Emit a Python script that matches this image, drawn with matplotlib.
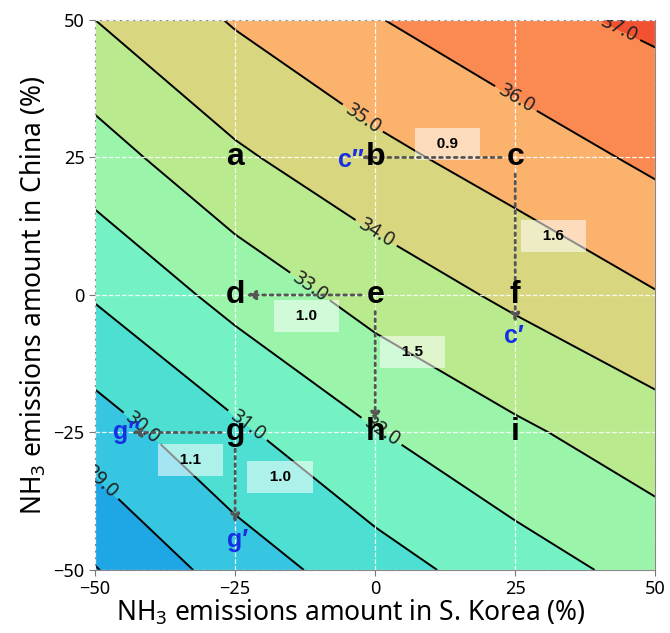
import numpy as np
import matplotlib
matplotlib.use("Agg")
import matplotlib.pyplot as plt

# emission change grid (%), S. Korea on x, China on y
korea_pct = [-50, -25, 0, 25, 50]
china_pct = [-50, -25, 0, 25, 50]

# concentration, rows = china_pct, cols = korea_pct
conc = [
    [27.95, 29.45, 30.57, 31.54, 32.35],
    [29.50, 30.82, 31.95, 32.82, 33.57],
    [31.10, 32.34, 33.40, 34.20, 34.95],
    [32.55, 33.84, 34.73, 35.47, 36.20],
    [34.00, 35.09, 35.95, 36.70, 37.20],
]
levels = [27, 28, 29, 30, 31, 32, 33, 34, 35, 36, 37, 38]
line_levels = [28, 29, 30, 31, 32, 33, 34, 35, 36, 37]
band_colors = ['#1598e0', '#1fa6e4', '#36c6e2', '#4cdfd2', '#74f2c4', '#9af5aa',
               '#b9ea8e', '#d8d67e', '#fab26c', '#fb8a52', '#f25232']

# where the contour labels sit
label_spots = [(44, 49.5), (25, 35.5), (-3, 31), (0, 11), (-12, 1),
               (1, -25), (-23, -24), (-43, -26), (-49, -34)]

# scenario points
pt_names = ['a', 'b', 'c', 'd', 'e', 'f', 'g', 'h', 'i']
pt_x = [-25, 0, 25, -25, 0, 25, -25, 0, 25]
pt_y = [25, 25, 25, 0, 0, 0, -25, -25, -25]

# shifted points (blue)
sh_names = ['c\u2033', 'c\u2032', 'g\u2033', 'g\u2032']
sh_x = [-4.3, 24.8, -44.3, -24.5]
sh_y = [24.6, -7.5, -25, -44.5]

# dotted arrows: start -> end
arr_start = [(22.5, 25), (25, 22), (-2.5, 0), (0, -3), (-27.5, -25), (-25, -28)]
arr_end = [(-2.5, 25), (25, -5), (-23, 0), (0, -23), (-43.5, -25), (-25, -41.5)]

# boxed numbers
box_text = ['0.9', '1.6', '1.0', '1.5', '1.1', '1.0']
box_x = [12.9, 31.8, -12.3, 6.6, -33.0, -17.0]
box_y = [27.5, 10.7, -3.8, -10.4, -30.0, -33.1]

plt.rcParams['font.family'] = ['Noto Sans', 'DejaVu Sans']
plt.rcParams['mathtext.fontset'] = 'custom'
plt.rcParams['mathtext.rm'] = 'Noto Sans'

fig = plt.figure(figsize=(6.7, 6.33), dpi=100)
ax = fig.add_axes([0.142, 0.0995, 0.836, 0.869])

X, Y = np.meshgrid(korea_pct, china_pct)
Z = np.array(conc)
ax.contourf(X, Y, Z, levels=levels, colors=band_colors)
cs = ax.contour(X, Y, Z, levels=line_levels, colors='black', linewidths=1.4)
labs = ax.clabel(cs, fmt='%.1f', fontsize=14, manual=label_spots, inline=True,
                 colors='#222222')
for t in labs:
    t.set_clip_on(True)

ax.set_xlim(-50, 50)
ax.set_ylim(-50, 50)
ax.set_xticks([-50, -25, 0, 25, 50])
ax.set_yticks([-50, -25, 0, 25, 50])
ax.tick_params(labelsize=13, length=4, color='#777777')
ax.set_axisbelow(False)
ax.grid(True, color='white', linestyle='--', linewidth=0.9, alpha=0.9)
for sp in ax.spines.values():
    sp.set_color('#888888')

for s, e in zip(arr_start, arr_end):
    ax.annotate('', xy=e, xytext=s,
                arrowprops=dict(arrowstyle='-|>', linestyle=':', lw=2,
                                color='#555555', mutation_scale=13,
                                shrinkA=0, shrinkB=0), zorder=5)

for n, x, y in zip(pt_names, pt_x, pt_y):
    ax.text(x, y, n, fontsize=23, fontweight='bold', family='Liberation Sans',
            ha='center', va='center', zorder=6)

for n, x, y in zip(sh_names, sh_x, sh_y):
    ax.text(x, y, n, fontsize=18, fontweight='bold', color='#1530e0',
            family=['Liberation Sans', 'DejaVu Sans'],
            ha='center', va='center', zorder=6)

for t, x, y in zip(box_text, box_x, box_y):
    ax.text(x, y, '   ' + t + '   ', fontsize=11, fontweight='bold',
            family='Liberation Sans', ha='center', va='center', zorder=4,
            bbox=dict(boxstyle='square,pad=0.6', facecolor='white',
                      edgecolor='none', alpha=0.55))

ax.set_xlabel('NH$_3$ emissions amount in S. Korea (%)', fontsize=19)
ax.xaxis.set_label_coords(0.457, -0.05)
ax.set_ylabel('NH$_3$ emissions amount in China (%)', fontsize=19)

fig.savefig('out.png', dpi=100)
